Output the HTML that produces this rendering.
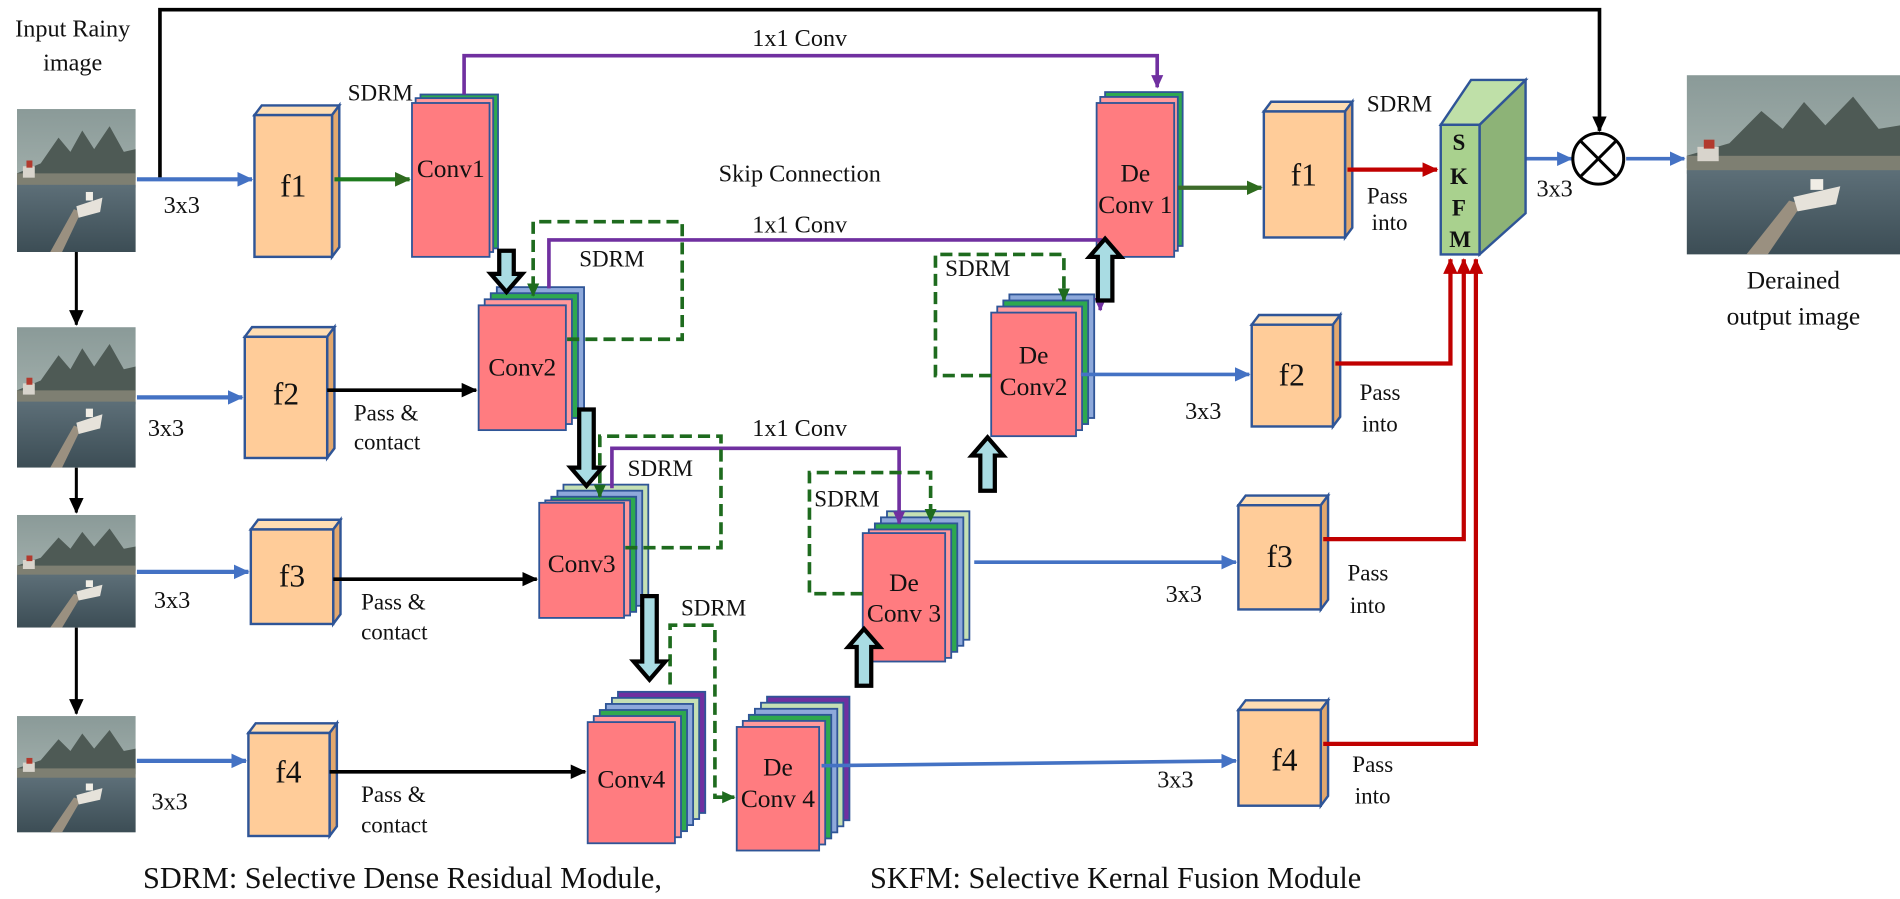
<!DOCTYPE html>
<html><head><meta charset="utf-8"><style>
html,body{margin:0;padding:0;background:#fff;width:1900px;height:899px;overflow:hidden}
svg{display:block}
svg text{font-family:"Liberation Serif","Times New Roman",serif !important;fill:#111}
</style></head><body>
<svg width="1900" height="899" viewBox="0 0 1568 742" preserveAspectRatio="none" xmlns="http://www.w3.org/2000/svg" font-family="'Liberation Serif', serif">
<defs>
<marker id="mb" markerUnits="userSpaceOnUse" markerWidth="14" markerHeight="14" refX="12" refY="7" orient="auto"><path d="M0,1 L13,7 L0,13 Z" fill="#4472C4"/></marker>
<marker id="mk" markerUnits="userSpaceOnUse" markerWidth="14" markerHeight="14" refX="12" refY="7" orient="auto"><path d="M0,1 L13,7 L0,13 Z" fill="#000"/></marker>
<marker id="mg" markerUnits="userSpaceOnUse" markerWidth="14" markerHeight="14" refX="12" refY="7" orient="auto"><path d="M0,1 L13,7 L0,13 Z" fill="#2E6B1E"/></marker>
<marker id="mr" markerUnits="userSpaceOnUse" markerWidth="14" markerHeight="14" refX="12" refY="7" orient="auto"><path d="M0,1 L13,7 L0,13 Z" fill="#C00000"/></marker>
<marker id="mp" markerUnits="userSpaceOnUse" markerWidth="12" markerHeight="12" refX="10" refY="6" orient="auto"><path d="M0,1 L11,6 L0,11 Z" fill="#7030A0"/></marker>
<marker id="md" markerUnits="userSpaceOnUse" markerWidth="12" markerHeight="12" refX="10" refY="6" orient="auto"><path d="M0,1 L11,6 L0,11 Z" fill="#1E6B1E"/></marker>
<linearGradient id="sky" x1="0" y1="0" x2="0" y2="1"><stop offset="0" stop-color="#8a9a98"/><stop offset="1" stop-color="#b7c2bd"/></linearGradient>
<linearGradient id="wat" x1="0" y1="0" x2="0" y2="1"><stop offset="0" stop-color="#5d6f78"/><stop offset="1" stop-color="#3c4d55"/></linearGradient>
<symbol id="photo" viewBox="0 0 100 100" preserveAspectRatio="none">
<rect width="100" height="100" fill="url(#sky)"/>
<path d="M0,45 L20,38 L35,20 L45,30 L55,15 L65,28 L78,12 L90,30 L100,28 L100,50 L0,52 Z" fill="#4e5a55"/>
<rect x="0" y="45" width="100" height="10" fill="#7e7f72"/>
<rect x="5" y="40" width="10" height="8" fill="#d8d4cc"/><rect x="8" y="36" width="5" height="5" fill="#b23a2e"/>
<rect x="0" y="53" width="100" height="47" fill="url(#wat)"/>
<path d="M28,100 L48,70 L54,72 L38,100 Z" fill="#9a9080"/>
<path d="M50,68 L72,62 L70,72 L52,76 Z" fill="#e6e2da"/><rect x="58" y="58" width="6" height="6" fill="#f0ede5"/>
</symbol>
</defs>

<polyline points="132,148 132,8 1320,8 1320,108" fill="none" stroke="#000" stroke-width="3" marker-end="url(#mk)"/>

<text x="60" y="30" font-size="20" text-anchor="middle">Input Rainy</text>
<text x="60" y="58" font-size="20" text-anchor="middle">image</text>
<use href="#photo" x="14" y="90" width="98" height="118"/>
<use href="#photo" x="14" y="270" width="98" height="116"/>
<use href="#photo" x="14" y="425" width="98" height="93"/>
<use href="#photo" x="14" y="591" width="98" height="96"/>
<line x1="63" y1="208" x2="63" y2="268" stroke="#000" stroke-width="2.5" marker-end="url(#mk)"/>
<line x1="63" y1="386" x2="63" y2="423" stroke="#000" stroke-width="2.5" marker-end="url(#mk)"/>
<line x1="63" y1="518" x2="63" y2="589" stroke="#000" stroke-width="2.5" marker-end="url(#mk)"/>

<g stroke="#4472C4" stroke-width="3.5" fill="none">
<line x1="113" y1="148" x2="208" y2="148" marker-end="url(#mb)"/>
<line x1="113" y1="328" x2="200" y2="328" marker-end="url(#mb)"/>
<line x1="113" y1="472" x2="205" y2="472" marker-end="url(#mb)"/>
<line x1="113" y1="628" x2="203" y2="628" marker-end="url(#mb)"/>
</g>
<g font-size="20">
<text x="135" y="176">3x3</text><text x="122" y="360">3x3</text>
<text x="127" y="502">3x3</text><text x="125" y="668">3x3</text>
</g>

<g stroke="#2F5597" stroke-width="2">
<g><polygon points="210,95 216,87 280,87 274,95" fill="#FFDDB3"/><polygon points="274,95 280,87 280,204 274,212" fill="#E3A86E"/><rect x="210" y="95" width="64" height="117" fill="#FFCC99"/></g>
<g><polygon points="202,278 208,270 276,270 270,278" fill="#FFDDB3"/><polygon points="270,278 276,270 276,370 270,378" fill="#E3A86E"/><rect x="202" y="278" width="68" height="100" fill="#FFCC99"/></g>
<g><polygon points="207,437 213,429 281,429 275,437" fill="#FFDDB3"/><polygon points="275,437 281,429 281,507 275,515" fill="#E3A86E"/><rect x="207" y="437" width="68" height="78" fill="#FFCC99"/></g>
<g><polygon points="205,605 211,597 278,597 272,605" fill="#FFDDB3"/><polygon points="272,605 278,597 278,682 272,690" fill="#E3A86E"/><rect x="205" y="605" width="67" height="85" fill="#FFCC99"/></g>
<g><polygon points="1043,92 1049,84 1116,84 1110,92" fill="#FFDDB3"/><polygon points="1110,92 1116,84 1116,188 1110,196" fill="#E3A86E"/><rect x="1043" y="92" width="67" height="104" fill="#FFCC99"/></g>
<g><polygon points="1033,268 1039,260 1106,260 1100,268" fill="#FFDDB3"/><polygon points="1100,268 1106,260 1106,344 1100,352" fill="#E3A86E"/><rect x="1033" y="268" width="67" height="84" fill="#FFCC99"/></g>
<g><polygon points="1022,417 1028,409 1096,409 1090,417" fill="#FFDDB3"/><polygon points="1090,417 1096,409 1096,495 1090,503" fill="#E3A86E"/><rect x="1022" y="417" width="68" height="86" fill="#FFCC99"/></g>
<g><polygon points="1022,586 1028,578 1096,578 1090,586" fill="#FFDDB3"/><polygon points="1090,586 1096,578 1096,657 1090,665" fill="#E3A86E"/><rect x="1022" y="586" width="68" height="79" fill="#FFCC99"/></g>
</g>
<g font-size="26" text-anchor="middle">
<text x="242" y="162">f1</text><text x="236" y="334">f2</text><text x="241" y="484">f3</text><text x="238" y="646">f4</text>
<text x="1076" y="153">f1</text><text x="1066" y="318">f2</text><text x="1056" y="468">f3</text><text x="1060" y="636">f4</text>
</g>

<g stroke="#2F5597" stroke-width="1.5">
<rect x="347" y="78" width="64" height="127" fill="#2EA84F"/>
<rect x="343" y="81" width="64" height="127" fill="#FF9A9C"/>
<rect x="340" y="85" width="64" height="127" fill="#FF7C80"/>
<rect x="410" y="237" width="72" height="103" fill="#8EA9DB"/>
<rect x="405" y="242" width="72" height="103" fill="#2EA84F"/>
<rect x="400" y="247" width="72" height="103" fill="#FF9A9C"/>
<rect x="395" y="252" width="72" height="103" fill="#FF7C80"/>
<rect x="465" y="400" width="70" height="95" fill="#C5E0B4"/>
<rect x="460" y="405" width="70" height="95" fill="#8EA9DB"/>
<rect x="455" y="410" width="70" height="95" fill="#2EA84F"/>
<rect x="450" y="413" width="70" height="95" fill="#FF9A9C"/>
<rect x="445" y="415" width="70" height="95" fill="#FF7C80"/>
<rect x="510" y="571" width="72" height="100" fill="#7030A0"/>
<rect x="505" y="576" width="72" height="100" fill="#C5E0B4"/>
<rect x="500" y="581" width="72" height="100" fill="#8EA9DB"/>
<rect x="495" y="586" width="72" height="100" fill="#2EA84F"/>
<rect x="490" y="591" width="72" height="100" fill="#FF9A9C"/>
<rect x="485" y="596" width="72" height="100" fill="#FF7C80"/>
<rect x="633" y="575" width="68" height="102" fill="#7030A0"/>
<rect x="628" y="580" width="68" height="102" fill="#C5E0B4"/>
<rect x="623" y="585" width="68" height="102" fill="#8EA9DB"/>
<rect x="618" y="590" width="68" height="102" fill="#2EA84F"/>
<rect x="613" y="595" width="68" height="102" fill="#FF9A9C"/>
<rect x="608" y="600" width="68" height="102" fill="#FF7C80"/>
<rect x="732" y="422" width="68" height="106" fill="#C5E0B4"/>
<rect x="727" y="427" width="68" height="106" fill="#8EA9DB"/>
<rect x="722" y="432" width="68" height="106" fill="#2EA84F"/>
<rect x="717" y="437" width="68" height="106" fill="#FF9A9C"/>
<rect x="712" y="440" width="68" height="106" fill="#FF7C80"/>
<rect x="833" y="243" width="70" height="102" fill="#8EA9DB"/>
<rect x="828" y="248" width="70" height="102" fill="#2EA84F"/>
<rect x="823" y="253" width="70" height="102" fill="#FF9A9C"/>
<rect x="818" y="258" width="70" height="102" fill="#FF7C80"/>
<rect x="912" y="76" width="64" height="127" fill="#2EA84F"/>
<rect x="908" y="80" width="64" height="127" fill="#FF9A9C"/>
<rect x="905" y="85" width="64" height="127" fill="#FF7C80"/>
</g>
<g font-size="21" text-anchor="middle">
<text x="372" y="146">Conv1</text>
<text x="431" y="310">Conv2</text>
<text x="480" y="472">Conv3</text>
<text x="521" y="650">Conv4</text>
<text x="642" y="640">De</text><text x="642" y="666">Conv 4</text>
<text x="746" y="488">De</text><text x="746" y="513">Conv 3</text>
<text x="853" y="300">De</text><text x="853" y="326">Conv2</text>
<text x="937" y="150">De</text><text x="937" y="176">Conv 1</text>
</g>

<g stroke="#7030A0" stroke-width="3" fill="none">
<polyline points="383,78 383,46 955,46 955,72" marker-end="url(#mp)"/>
<polyline points="453,238 453,198 908,198 908,256" marker-end="url(#mp)"/>
<polyline points="505,403 505,370 742,370 742,432" marker-end="url(#mp)"/>
</g>
<g font-size="20" text-anchor="middle">
<text x="660" y="38">1x1 Conv</text>
<text x="660" y="150">Skip Connection</text>
<text x="660" y="192">1x1 Conv</text>
<text x="660" y="360">1x1 Conv</text>
</g>

<g stroke="#1E6B1E" stroke-width="3" fill="none" stroke-dasharray="10,5">
<polyline points="468,280 563,280 563,183 440,183 440,244" marker-end="url(#md)"/>
<polyline points="516,452 595,452 595,360 495,360 495,410" marker-end="url(#md)"/>
<polyline points="553,565 553,516 590,516 590,658 606,658" marker-end="url(#md)"/>
<polyline points="712,490 668,490 668,390 768,390 768,430" marker-end="url(#md)"/>
<polyline points="818,310 772,310 772,210 878,210 878,248" marker-end="url(#md)"/>
</g>
<g font-size="19">
<text x="287" y="83">SDRM</text>
<text x="478" y="220">SDRM</text>
<text x="518" y="393">SDRM</text>
<text x="562" y="508">SDRM</text>
<text x="672" y="418">SDRM</text>
<text x="780" y="228">SDRM</text>
<text x="1128" y="92">SDRM</text>
</g>

<g fill="#A9DCE3" stroke="#000" stroke-width="3.5" stroke-linejoin="miter">
<polygon points="412,207 424,207 424,226 431,226 418,241 405,226 412,226"/>
<polygon points="478,338 490,338 490,386 497,386 484,401 471,386 478,386"/>
<polygon points="530,492 542,492 542,546 549,546 536,561 523,546 530,546"/>
<polygon points="707,566 719,566 719,534 726,534 713,519 700,534 707,534"/>
<polygon points="809,405 821,405 821,376 828,376 815,361 802,376 809,376"/>
<polygon points="906,248 918,248 918,212 925,212 912,197 899,212 906,212"/>
</g>

<line x1="276" y1="148" x2="338" y2="148" stroke="#1E7B1E" stroke-width="3.5" marker-end="url(#mg)"/>
<line x1="972" y1="155" x2="1041" y2="155" stroke="#3D6B2A" stroke-width="3.5" marker-end="url(#mg)"/>

<g stroke="#000" stroke-width="3">
<line x1="270" y1="322" x2="393" y2="322" marker-end="url(#mk)"/>
<line x1="275" y1="478" x2="443" y2="478" marker-end="url(#mk)"/>
<line x1="272" y1="637" x2="483" y2="637" marker-end="url(#mk)"/>
</g>
<g font-size="19">
<text x="292" y="347">Pass &amp;</text><text x="292" y="371">contact</text>
<text x="298" y="503">Pass &amp;</text><text x="298" y="528">contact</text>
<text x="298" y="662">Pass &amp;</text><text x="298" y="687">contact</text>
</g>

<g stroke="#4472C4" stroke-width="3" fill="none">
<line x1="892" y1="309" x2="1031" y2="309" marker-end="url(#mb)"/>
<line x1="804" y1="464" x2="1020" y2="464" marker-end="url(#mb)"/>
<line x1="678" y1="632" x2="1020" y2="628" marker-end="url(#mb)"/>
<line x1="1259" y1="131" x2="1297" y2="131" marker-end="url(#mb)"/>
<line x1="1342" y1="131" x2="1390" y2="131" marker-end="url(#mb)"/>
</g>
<g font-size="20">
<text x="978" y="346">3x3</text><text x="962" y="497">3x3</text><text x="955" y="650">3x3</text><text x="1268" y="162">3x3</text>
</g>

<g stroke="#C00000" stroke-width="3.5" fill="none">
<line x1="1112" y1="140" x2="1186" y2="140" marker-end="url(#mr)"/>
<polyline points="1102,300 1197,300 1197,214" marker-end="url(#mr)"/>
<polyline points="1092,445 1208,445 1208,214" marker-end="url(#mr)"/>
<polyline points="1092,614 1218,614 1218,214" marker-end="url(#mr)"/>
</g>
<g font-size="19">
<text x="1128" y="168">Pass</text><text x="1132" y="190">into</text>
<text x="1122" y="330">Pass</text><text x="1124" y="356">into</text>
<text x="1112" y="479">Pass</text><text x="1114" y="506">into</text>
<text x="1116" y="637">Pass</text><text x="1118" y="663">into</text>
</g>

<g stroke="#2F5597" stroke-width="2">
<polygon points="1221,103 1259,66 1259,176 1221,210" fill="#8DB377"/>
<polygon points="1189,103 1214,66 1259,66 1221,103" fill="#BFE0A8"/>
<rect x="1189" y="103" width="32" height="107" fill="#A9D18E"/>
</g>
<g font-size="19" font-weight="bold" text-anchor="middle">
<text x="1204" y="124">S</text><text x="1204" y="152">K</text><text x="1204" y="178">F</text><text x="1205" y="204">M</text>
</g>

<circle cx="1319" cy="131" r="21" fill="#fff" stroke="#000" stroke-width="2.5"/>
<line x1="1304" y1="116" x2="1334" y2="146" stroke="#000" stroke-width="2.5"/>
<line x1="1334" y1="116" x2="1304" y2="146" stroke="#000" stroke-width="2.5"/>

<use href="#photo" x="1392" y="62" width="176" height="148"/>
<text x="1480" y="238" font-size="21" text-anchor="middle">Derained</text>
<text x="1480" y="268" font-size="21" text-anchor="middle">output image</text>

<text x="118" y="733" font-size="25">SDRM: Selective Dense Residual Module,</text>
<text x="718" y="733" font-size="25">SKFM:  Selective Kernal Fusion Module</text>
</svg>
</body></html>
